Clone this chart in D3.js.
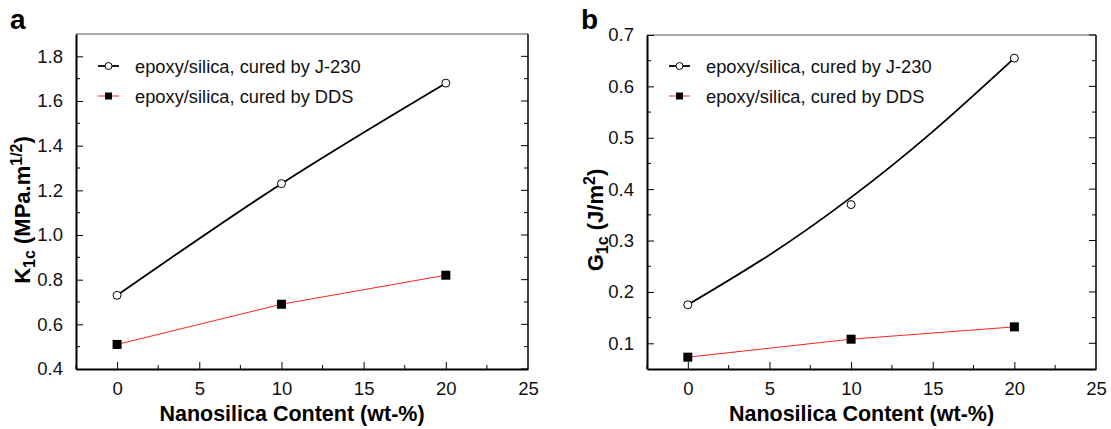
<!DOCTYPE html>
<html>
<head>
<meta charset="utf-8">
<script src="https://cdn.jsdelivr.net/npm/d3@7"></script>
<style>
  body { margin: 0; background: #fff; }
  text { font-family: "Liberation Sans", Arial, sans-serif; }
</style>
</head>
<body>
<script>
const content = [0, 10, 20];
const k1cJ230 = [0.73, 1.23, 1.68];
const k1cDDS = [0.51, 0.69, 0.82];
const g1cJ230 = [0.175, 0.37, 0.655];
const g1cDDS = [0.073, 0.108, 0.132];
// fitted curve for G1c J-230
const g1cFitX = [0, 5, 10, 15, 20];
const g1cFitY = [0.175, 0.272, 0.384, 0.512, 0.655];
const xTicks = [0, 5, 10, 15, 20, 25];
const k1cTicks = [0.4, 0.6, 0.8, 1.0, 1.2, 1.4, 1.6, 1.8];
const g1cTicks = [0.1, 0.2, 0.3, 0.4, 0.5, 0.6, 0.7];
const legendLabels = ["epoxy/silica, cured by J-230", "epoxy/silica, cured by DDS"];

const width = 1111, height = 429;
const svg = d3.select("body").append("svg")
    .attr("width", width)
    .attr("height", height);

function drawPanel(p) {
    let x = d3.scaleLinear().domain([-2.5, 25]).range([p.left, p.right]);
    let y = d3.scaleLinear().domain(p.yDomain).range([p.bottom, p.top]);
    let g = svg.append("g");

    // frame
    g.append("line").attr("x1", p.left).attr("x2", p.right).attr("y1", p.top).attr("y2", p.top)
        .attr("stroke", "#555").attr("stroke-width", 1.2);
    g.append("line").attr("x1", p.right).attr("x2", p.right).attr("y1", p.top).attr("y2", p.bottom)
        .attr("stroke", "#000").attr("stroke-width", 1.5);

    // minor ticks
    let xMinor = d3.range(-2.5, 25.01, 2.5).filter(v => xTicks.indexOf(v) < 0);
    let yMinor = p.yMinor;

    let xAxis = d3.axisBottom(x).tickValues(xTicks).tickSizeInner(-7).tickSizeOuter(0).tickPadding(13)
        .tickFormat(d3.format("d"));
    let gx = g.append("g").attr("transform", "translate(0," + p.bottom + ")").call(xAxis);
    gx.selectAll(".tick").filter(d => d === 25).select("line").remove();
    gx.append("g").selectAll("line").data(xMinor).enter().append("line")
        .attr("x1", d => x(d)).attr("x2", d => x(d)).attr("y1", 0).attr("y2", -4).attr("stroke", "#000");

    let yAxis = d3.axisLeft(y).tickValues(p.yTicks).tickSizeInner(-7).tickSizeOuter(0).tickPadding(13)
        .tickFormat(d3.format(".1f"));
    let gy = g.append("g").attr("transform", "translate(" + p.left + ",0)").call(yAxis);
    gy.append("g").selectAll("line").data(yMinor).enter().append("line")
        .attr("x1", 0).attr("x2", 4).attr("y1", d => y(d)).attr("y2", d => y(d)).attr("stroke", "#000");

    // right side ticks
    let gr = g.append("g");
    gr.selectAll(".maj").data(p.yTicks).enter().append("line")
        .attr("x1", p.right).attr("x2", p.right - 7).attr("y1", d => y(d)).attr("y2", d => y(d)).attr("stroke", "#000");
    gr.selectAll(".min").data(yMinor).enter().append("line")
        .attr("x1", p.right).attr("x2", p.right - 4).attr("y1", d => y(d)).attr("y2", d => y(d)).attr("stroke", "#000");

    [gx, gy].forEach(a => {
        a.select(".domain").attr("stroke-width", 2);
        a.selectAll("text").attr("font-size", 18.5).attr("fill", "#111");
    });

    // series
    let curve = d3.line().x(d => x(d[0])).y(d => y(d[1])).curve(d3.curveNatural);
    let straight = d3.line().x(d => x(d[0])).y(d => y(d[1]));
    g.append("path").attr("d", curve(d3.zip(p.fitX, p.fitY)))
        .attr("fill", "none").attr("stroke", "#000").attr("stroke-width", 1.8);
    g.append("path").attr("d", straight(d3.zip(content, p.dds)))
        .attr("fill", "none").attr("stroke", "#f22").attr("stroke-width", 1);

    g.selectAll(".sq").data(d3.zip(content, p.dds)).enter().append("rect")
        .attr("x", d => x(d[0]) - 4.5).attr("y", d => y(d[1]) - 4.5)
        .attr("width", 9).attr("height", 9).attr("fill", "#000");
    g.selectAll(".ci").data(d3.zip(content, p.j230)).enter().append("circle")
        .attr("cx", d => x(d[0])).attr("cy", d => y(d[1])).attr("r", 4)
        .attr("fill", "#fff").attr("stroke", "#000").attr("stroke-width", 1);

    // legend
    let lx = p.left + 22, ly = 66;
    g.append("line").attr("x1", lx).attr("x2", lx + 21).attr("y1", ly).attr("y2", ly)
        .attr("stroke", "#000").attr("stroke-width", 1.8);
    g.append("circle").attr("cx", lx + 10.5).attr("cy", ly).attr("r", 3.5)
        .attr("fill", "#fff").attr("stroke", "#000");
    g.append("line").attr("x1", lx).attr("x2", lx + 21).attr("y1", ly + 30).attr("y2", ly + 30)
        .attr("stroke", "#f22").attr("stroke-width", 1);
    g.append("rect").attr("x", lx + 7).attr("y", ly + 26.5).attr("width", 7).attr("height", 7).attr("fill", "#000");
    legendLabels.forEach((t, i) => {
        g.append("text").attr("x", lx + 37).attr("y", ly + i * 30 + 6.5)
            .attr("font-size", 18.3).attr("fill", "#111").text(t);
    });

    // titles
    g.append("text").attr("x", p.labelX).attr("y", 29).attr("font-size", 28).attr("font-weight", "bold").text(p.label);
    g.append("text").attr("x", (p.left + p.right) / 2 - 10).attr("y", 421)
        .attr("text-anchor", "middle").attr("font-size", 21.5).attr("font-weight", "bold")
        .text("Nanosilica Content (wt-%)");
    let yt = g.append("text").attr("text-anchor", "middle").attr("font-size", 22).attr("font-weight", "bold")
        .attr("transform", "translate(" + p.yTitleX + "," + p.yTitleY + ")rotate(-90)");
    p.yTitle.forEach(s => {
        let ts = yt.append("tspan").text(s[0]);
        if (s[1] === "sub") ts.attr("font-size", 16).attr("dy", 5);
        if (s[1] === "sup") ts.attr("font-size", 16).attr("dy", -8);
        if (s[1] === "back") ts.attr("dy", s[2]);
    });
}

drawPanel({
    left: 76, right: 528, top: 34, bottom: 369,
    yDomain: [0.4, 1.9], yTicks: k1cTicks,
    yMinor: [0.5, 0.7, 0.9, 1.1, 1.3, 1.5, 1.7],
    j230: k1cJ230, dds: k1cDDS, fitX: content, fitY: k1cJ230,
    label: "a", labelX: 10, yTitleX: 30, yTitleY: 210,
    yTitle: [["K"], ["1c", "sub"], [" (MPa.m", "back", -5], ["1/2", "sup"], [")", "back", 8]]
});

drawPanel({
    left: 647, right: 1096, top: 35, bottom: 369,
    yDomain: [0.05, 0.7], yTicks: g1cTicks,
    yMinor: [0.15, 0.25, 0.35, 0.45, 0.55, 0.65],
    j230: g1cJ230, dds: g1cDDS, fitX: g1cFitX, fitY: g1cFitY,
    label: "b", labelX: 581, yTitleX: 603, yTitleY: 220,
    yTitle: [["G"], ["1c", "sub"], [" (J/m", "back", -5], ["2", "sup"], [")", "back", 8]]
});
</script>
</body>
</html>
